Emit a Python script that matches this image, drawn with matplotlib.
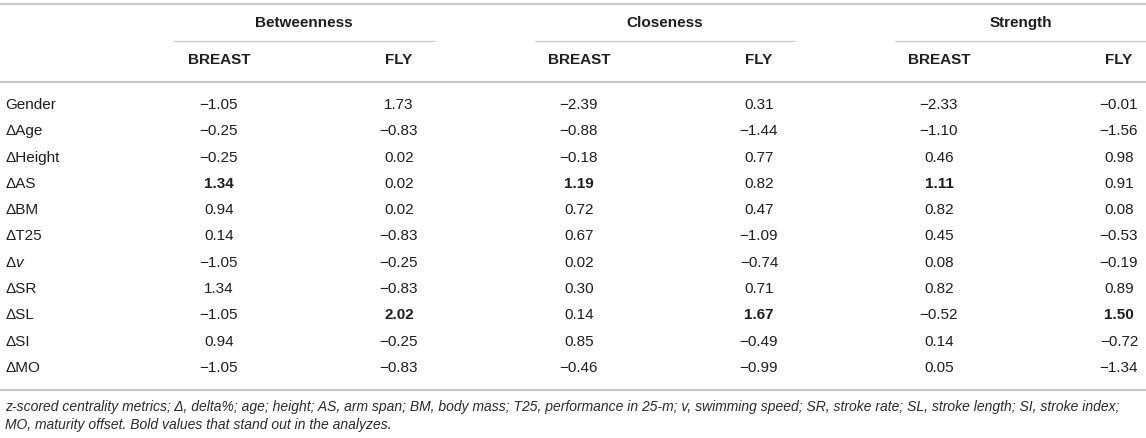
import matplotlib
matplotlib.use("Agg")
import matplotlib.pyplot as plt

plt.rcParams['font.family'] = ['Liberation Sans', 'DejaVu Sans']
plt.rcParams['mathtext.fontset'] = 'custom'
plt.rcParams['mathtext.rm'] = 'Liberation Sans'
plt.rcParams['mathtext.it'] = 'Liberation Sans:italic'
plt.rcParams['mathtext.bf'] = 'Liberation Sans:bold'

# table contents
groups = ["Betweenness", "Closeness", "Strength"]
strokes = ["BREAST", "FLY"]
row_labels = ["Gender", "ΔAge", "ΔHeight", "ΔAS", "ΔBM", "ΔT25", "Δ$v$", "ΔSR", "ΔSL", "ΔSI", "ΔMO"]

betweenness_breast = [-1.05, -0.25, -0.25, 1.34, 0.94, 0.14, -1.05, 1.34, -1.05, 0.94, -1.05]
betweenness_fly = [1.73, -0.83, 0.02, 0.02, 0.02, -0.83, -0.25, -0.83, 2.02, -0.25, -0.83]
closeness_breast = [-2.39, -0.88, -0.18, 1.19, 0.72, 0.67, 0.02, 0.30, 0.14, 0.85, -0.46]
closeness_fly = [0.31, -1.44, 0.77, 0.82, 0.47, -1.09, -0.74, 0.71, 1.67, -0.49, -0.99]
strength_breast = [-2.33, -1.10, 0.46, 1.11, 0.82, 0.45, 0.08, 0.82, -0.52, 0.14, 0.05]
strength_fly = [-0.01, -1.56, 0.98, 0.91, 0.08, -0.53, -0.19, 0.89, 1.50, -0.72, -1.34]

# (column index, row index) of the bold cells
bold_cells = [(0, 3), (1, 8), (2, 3), (3, 8), (4, 3), (5, 8)]

footnote = ["z-scored centrality metrics; Δ, delta%; age; height; AS, arm span; BM, body mass; "
            "T25, performance in 25-m; v, swimming speed; SR, stroke rate; SL, stroke length; SI, stroke index;",
            "MO, maturity offset. Bold values that stand out in the analyzes."]

columns = [betweenness_breast, betweenness_fly, closeness_breast, closeness_fly, strength_breast, strength_fly]

W, H = 1146, 438
fig = plt.figure(figsize=(W / 100, H / 100), dpi=100)
ax = fig.add_axes([0, 0, 1, 1])
ax.set_xlim(0, W)
ax.set_ylim(H, 0)
ax.axis('off')

line_col = '#c8c8c8'
txt_col = '#1e1e1e'
fs = 11

col_x0, col_dx = 219, 180
row_y0, row_dy = 105, 26.3
label_x = 5


def fmt(v):
    s = f"{abs(v):.2f}"
    return ("\u2212" + s) if v < 0 else s


# rules
ax.hlines(4, 0, W, color=line_col, lw=1.6)
ax.hlines(82, 0, W, color=line_col, lw=1.6)
ax.hlines(390, 0, W, color=line_col, lw=1.6)
group_spans = [(173, 435), (535, 795), (895, W)]
for (a, b) in group_spans:
    ax.hlines(41, a, b, color=line_col, lw=0.9)

# headers
for g, name in enumerate(groups):
    a, b = group_spans[g]
    ax.text((a + b) / 2, 23, name, ha='center', va='center', fontsize=fs, fontweight='bold', color=txt_col)
    for k, s in enumerate(strokes):
        ax.text(col_x0 + col_dx * (2 * g + k), 60, s, ha='center', va='center',
                fontsize=fs, fontweight='bold', color=txt_col)

# body
for i, lab in enumerate(row_labels):
    y = row_y0 + row_dy * i
    ax.text(label_x, y, lab, ha='left', va='center', fontsize=fs, color=txt_col)
    for j, col in enumerate(columns):
        w = 'bold' if (j, i) in bold_cells else 'normal'
        ax.text(col_x0 + col_dx * j, y, fmt(col[i]), ha='center', va='center',
                fontsize=fs, fontweight=w, color=txt_col)

# footnote
for k, line in enumerate(footnote):
    ax.text(label_x, 407 + 17.5 * k, line, ha='left', va='center', fontsize=10,
            style='italic', color='#2a2a2a')

fig.savefig("out.png", dpi=100)
